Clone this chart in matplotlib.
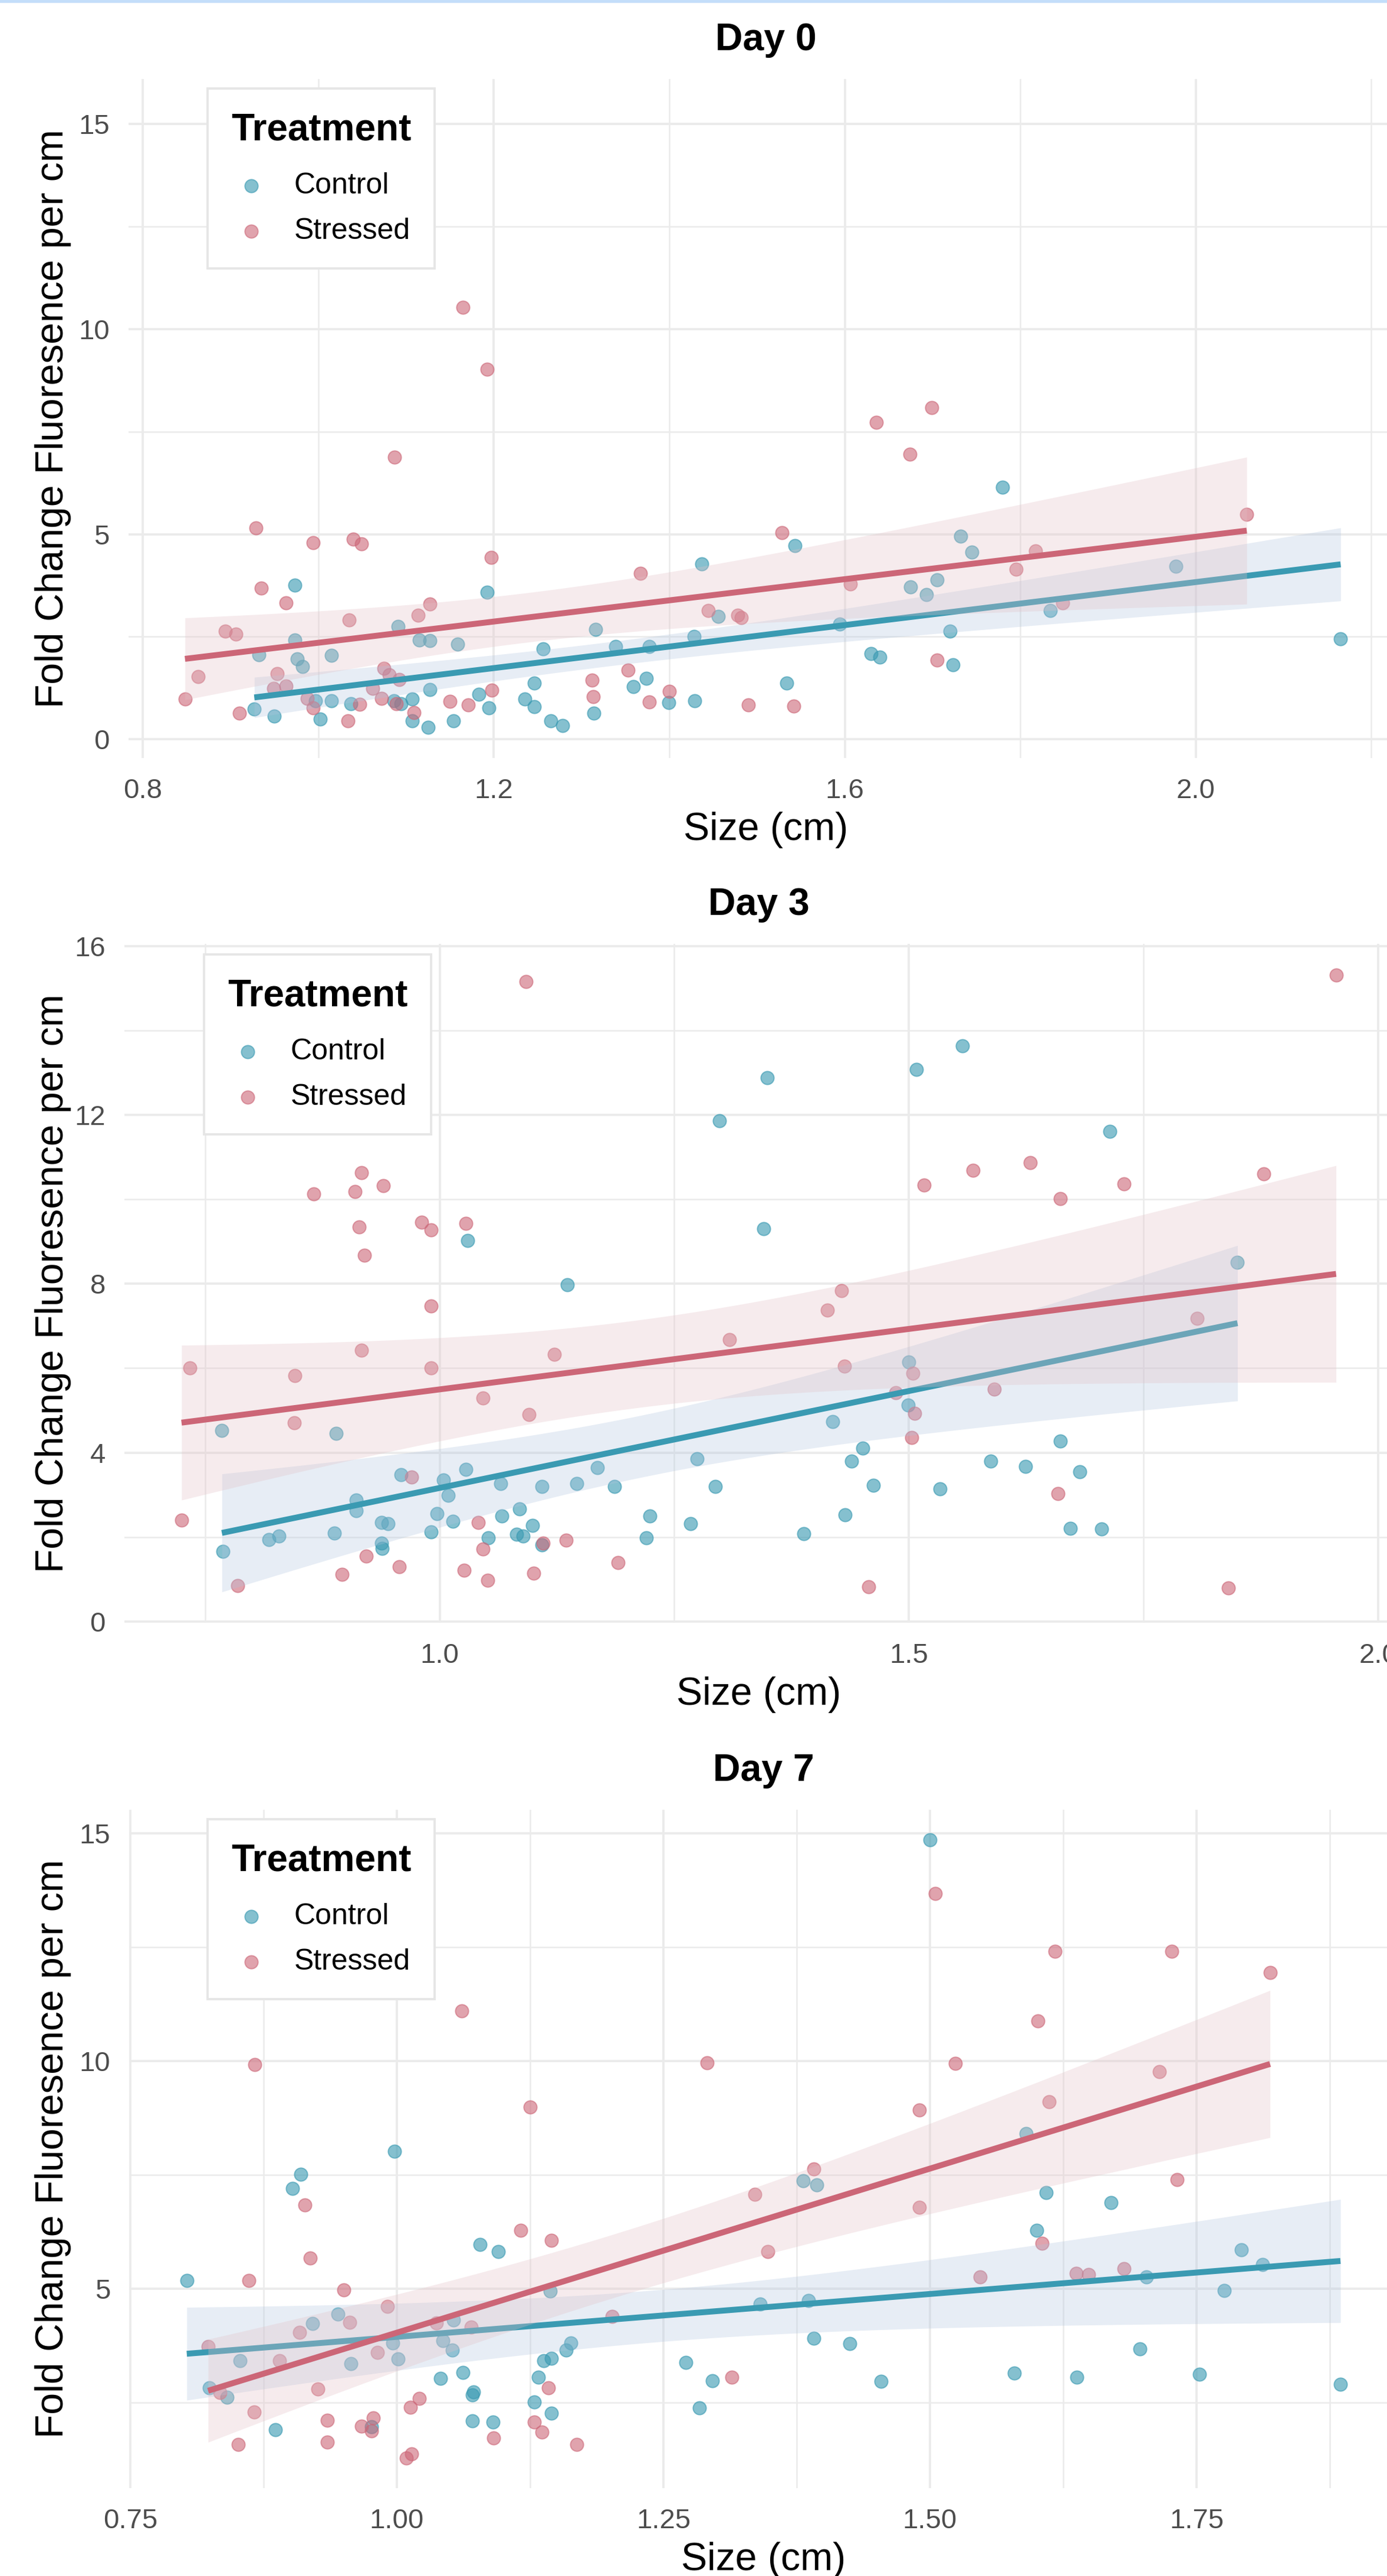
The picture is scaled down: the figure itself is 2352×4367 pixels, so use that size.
import numpy as np
import matplotlib
matplotlib.use("Agg")
import matplotlib.pyplot as plt
from matplotlib.patches import Rectangle

plt.rcParams['font.family'] = ['Liberation Sans', 'DejaVu Sans']

W, H, DPI = 2352, 4367, 200

CONTROL_COL = '#3A9AB2'
STRESS_COL = '#CC6677'
BAND_CONTROL = '#B0C4DE'
BAND_STRESS = '#E3C0C6'
GRID_COL = '#EBEBEB'

# ---- Day 0 ----
d0_ctrl_x = [0.973, 0.932, 0.973, 0.976, 0.982, 1.015, 0.927, 0.950, 1.002, 0.997,
             1.015, 1.037, 1.091, 1.115, 1.127, 1.159, 1.192, 1.086, 1.094, 1.107,
             1.107, 1.125, 1.127, 1.154, 1.183, 1.194, 1.235, 1.246, 1.246, 1.256,
             1.265, 1.278, 1.316, 1.314, 1.339, 1.359, 1.374, 1.377, 1.399, 1.429,
             1.428, 1.437, 1.456, 1.543, 1.534, 1.594, 1.630, 1.640, 1.675, 1.693,
             1.705, 1.720, 1.723, 1.732, 1.745, 1.780, 1.834, 1.977, 2.165]
d0_ctrl_y = [3.75, 2.06, 2.42, 1.96, 1.77, 2.04, 0.73, 0.56, 0.49, 0.94,
             0.94, 0.87, 2.75, 2.42, 2.40, 2.32, 3.59, 0.93, 0.87, 0.98,
             0.45, 0.29, 1.21, 0.45, 1.10, 0.76, 0.98, 0.79, 1.37, 2.20,
             0.45, 0.33, 2.67, 0.63, 2.26, 1.28, 1.48, 2.26, 0.89, 0.94,
             2.50, 4.27, 2.99, 4.72, 1.37, 2.81, 2.09, 2.00, 3.71, 3.53,
             3.89, 2.64, 1.82, 4.95, 4.56, 6.14, 3.14, 4.21, 2.44]
d0_str_x = [1.165, 1.192, 1.087, 0.929, 0.994, 1.040, 1.049, 1.197, 0.935, 0.963,
            1.367, 0.894, 0.906, 1.035, 1.114, 1.127, 0.863, 0.848, 0.910, 0.953,
            0.949, 0.963, 0.987, 0.994, 1.034, 1.047, 1.062, 1.075, 1.072,
            1.081, 1.092, 1.089, 1.109, 1.150, 1.171, 1.198, 1.312, 1.313,
            1.353, 1.377, 1.400, 1.444, 1.478, 1.482, 1.490, 1.528, 1.542, 1.606,
            1.636, 1.674, 1.699, 1.705, 1.795, 1.817, 1.848, 2.058]
d0_str_y = [10.53, 9.02, 6.88, 5.15, 4.79, 4.88, 4.76, 4.43, 3.69, 3.33,
            4.05, 2.64, 2.56, 2.90, 3.02, 3.30, 1.53, 0.98, 0.63, 1.60,
            1.24, 1.29, 1.00, 0.77, 0.45, 0.85, 1.24, 1.73, 1.00,
            1.57, 1.46, 0.87, 0.65, 0.92, 0.84, 1.20, 1.44, 1.04,
            1.68, 0.90, 1.17, 3.13, 3.02, 2.97, 0.84, 5.03, 0.80, 3.78,
            7.72, 6.95, 8.08, 1.93, 4.14, 4.59, 3.33, 5.48]

# ---- Day 3 ----
d3_ctrl_x = [1.298, 1.030, 1.136, 0.768, 0.890, 0.959, 1.004, 1.028, 1.009, 1.065,
             1.109, 1.146, 1.168, 1.186, 1.274, 1.294, 0.911, 0.911, 0.888, 0.818,
             0.829, 0.769, 0.938, 0.945, 0.938, 0.939, 0.997, 0.991, 1.014, 1.052,
             1.066, 1.085, 1.082, 1.089, 1.099, 1.109, 1.224, 1.220, 1.267, 1.557,
             1.508, 1.349, 1.345, 1.714, 1.850, 1.500, 1.499, 1.419, 1.451, 1.439,
             1.462, 1.533, 1.587, 1.624, 1.661, 1.682, 1.432, 1.388, 1.672, 1.705]
d3_ctrl_y = [11.86, 9.02, 7.97, 4.53, 4.46, 3.48, 3.35, 3.60, 2.99, 3.27,
             3.20, 3.26, 3.64, 3.20, 3.86, 3.20, 2.88, 2.62, 2.09, 1.94,
             2.02, 1.66, 2.35, 2.31, 1.85, 1.73, 2.56, 2.12, 2.37, 1.98,
             2.50, 2.66, 2.07, 2.03, 2.28, 1.82, 2.50, 1.98, 2.32, 13.63,
             13.07, 12.88, 9.30, 11.61, 8.50, 6.14, 5.12, 4.74, 4.11, 3.80,
             3.22, 3.14, 3.80, 3.67, 4.27, 3.54, 2.53, 2.08, 2.21, 2.19]
d3_str_x = [1.092, 0.917, 0.866, 0.910, 0.940, 0.914, 0.920, 0.981, 0.991, 1.028,
            0.991, 0.917, 0.991, 1.122, 0.734, 0.846, 0.845, 1.046, 1.095, 0.725,
            0.970, 1.041, 1.046, 1.110, 1.135, 0.785, 0.896, 0.922, 0.957, 1.026,
            1.051, 1.100, 1.190, 1.309, 1.955, 1.516, 1.568, 1.629, 1.661, 1.729,
            1.878, 1.428, 1.413, 1.431, 1.504, 1.486, 1.506, 1.503, 1.591, 1.659,
            1.807, 1.457, 1.840]
d3_str_y = [15.15, 10.63, 10.12, 10.18, 10.32, 9.34, 8.67, 9.46, 9.27, 9.43,
            7.47, 6.42, 6.01, 6.33, 6.01, 5.82, 4.71, 5.29, 4.90, 2.40,
            3.42, 2.34, 1.71, 1.86, 1.93, 0.85, 1.11, 1.55, 1.29, 1.21,
            0.98, 1.14, 1.39, 6.68, 15.31, 10.34, 10.69, 10.87, 10.02, 10.37,
            10.60, 7.84, 7.37, 6.04, 5.88, 5.42, 4.93, 4.35, 5.50, 3.03,
            7.18, 0.82, 0.79]

# ---- Day 7 ----
d7_ctrl_x = [0.998, 0.910, 0.902, 1.078, 1.095, 0.803, 1.144, 0.945, 0.921, 1.053,
             0.996, 1.043, 1.052, 0.853, 0.957, 1.001, 1.163, 1.159, 1.138, 1.145,
             1.271, 1.296, 0.824, 0.841, 1.041, 1.062, 1.071, 1.072, 1.133, 1.129,
             1.145, 1.284, 0.886, 0.976, 1.071, 1.090, 1.500, 1.590, 1.381, 1.394,
             1.609, 1.670, 1.600, 1.792, 1.812, 1.703, 1.776, 1.341, 1.386, 1.391,
             1.425, 1.454, 1.579, 1.638, 1.697, 1.753, 1.885]
d7_ctrl_y = [8.02, 7.52, 7.21, 5.97, 5.82, 5.18, 4.95, 4.45, 4.24, 4.32,
             3.81, 3.86, 3.66, 3.42, 3.36, 3.46, 3.81, 3.66, 3.42, 3.48,
             3.38, 2.98, 2.83, 2.62, 3.04, 3.16, 2.67, 2.74, 3.06, 2.51,
             2.27, 2.39, 1.91, 1.97, 2.10, 2.07, 14.86, 8.41, 7.38, 7.28,
             7.11, 6.90, 6.28, 5.86, 5.53, 5.26, 4.96, 4.67, 4.75, 3.92,
             3.80, 2.97, 3.15, 3.06, 3.68, 3.12, 2.91]
d7_str_x = [1.061, 0.867, 1.125, 1.291, 0.914, 0.919, 1.116, 1.145, 0.861, 0.950,
            0.991, 0.956, 0.909, 0.823, 0.890, 0.982, 1.037, 1.070, 1.202, 0.834,
            0.926, 0.866, 1.142, 1.314, 0.851, 0.935, 0.935, 0.967, 0.978, 0.976,
            1.013, 1.021, 1.009, 1.014, 1.091, 1.129, 1.136, 1.169, 1.505, 1.617,
            1.727, 1.819, 1.601, 1.524, 1.715, 1.490, 1.612, 1.391, 1.336, 1.490,
            1.732, 1.348, 1.605, 1.547, 1.637, 1.649, 1.682]
d7_str_y = [11.10, 9.93, 8.99, 9.96, 6.84, 5.68, 6.29, 6.06, 5.18, 4.98,
            4.62, 4.26, 4.04, 3.74, 3.42, 3.60, 4.25, 4.16, 4.39, 2.73,
            2.80, 2.29, 2.83, 3.06, 1.58, 2.11, 1.64, 1.99, 2.17, 1.88,
            2.40, 2.59, 1.28, 1.37, 1.73, 2.07, 1.86, 1.58, 13.68, 12.41,
            12.41, 11.95, 10.89, 9.95, 9.77, 8.93, 9.11, 7.64, 7.08, 6.79,
            7.40, 5.82, 6.00, 5.26, 5.34, 5.32, 5.45]

titles = ['Day 0', 'Day 3', 'Day 7']
ctrl_x = [d0_ctrl_x, d3_ctrl_x, d7_ctrl_x]
ctrl_y = [d0_ctrl_y, d3_ctrl_y, d7_ctrl_y]
str_x = [d0_str_x, d3_str_x, d7_str_x]
str_y = [d0_str_y, d3_str_y, d7_str_y]

x_major = [[0.8, 1.2, 1.6, 2.0], [1.0, 1.5, 2.0], [0.75, 1.00, 1.25, 1.50, 1.75]]
x_minor = [[1.0, 1.4, 1.8, 2.2], [0.75, 1.25, 1.75], [0.875, 1.125, 1.375, 1.625, 1.875]]
x_fmt = ['{:.1f}', '{:.1f}', '{:.2f}']
y_major = [[0, 5, 10, 15], [0, 4, 8, 12, 16], [5, 10, 15]]
y_minor = [[2.5, 7.5, 12.5], [2, 6, 10, 14], [2.5, 7.5, 12.5]]

# layout in pixels: left, right, top, bottom ; limits ; legend corner
boxes = [(217.7, 2379, 134, 1285), (210.7, 2363.5, 1600, 2750.6), (219.1, 2370.7, 3067.5, 4217.6)]
xlims = [(0.7835, 2.236), (0.664, 2.0165), (0.749, 1.939)]
ylims = [(-0.46, 16.1), (-0.025, 16.05), (0.63, 15.53)]
legend_at = [(352, 150), (346, 1618), (352, 3084)]


def lm_band(x, y, n=80):
    x = np.asarray(x)
    y = np.asarray(y)
    b, a = np.polyfit(x, y, 1)
    xs = np.linspace(x.min(), x.max(), n)
    fit = a + b * xs
    df = len(x) - 2
    s = np.sqrt(np.sum((y - (a + b * x)) ** 2) / df)
    sxx = np.sum((x - x.mean()) ** 2)
    se = s * np.sqrt(1.0 / len(x) + (xs - x.mean()) ** 2 / sxx)
    z = 1.959964
    t = z + (z ** 3 + z) / (4 * df) + (5 * z ** 5 + 16 * z ** 3 + 3 * z) / (96 * df ** 2)
    return xs, fit, fit - t * se, fit + t * se


fig = plt.figure(figsize=(W / DPI, H / DPI), dpi=DPI)
fig.patches.append(Rectangle((0, 1 - 3 / H), 1, 3 / H, transform=fig.transFigure,
                             color='#C4DEFA', zorder=10))

for i in range(3):
    l, r, t, b = boxes[i]
    ax = fig.add_axes([l / W, 1 - b / H, (r - l) / W, (b - t) / H])
    ax.set_xlim(*xlims[i])
    ax.set_ylim(*ylims[i])
    for s in ax.spines.values():
        s.set_visible(False)
    ax.set_axisbelow(True)

    ax.set_xticks(x_major[i])
    ax.set_xticklabels([x_fmt[i].format(v) for v in x_major[i]])
    ax.set_xticks(x_minor[i], minor=True)
    ax.set_yticks(y_major[i])
    ax.set_yticks(y_minor[i], minor=True)
    ax.grid(True, which='major', color=GRID_COL, lw=1.4)
    ax.grid(True, which='minor', color=GRID_COL, lw=0.9)
    ax.tick_params(which='both', length=0)
    ax.tick_params(axis='x', pad=12.3, labelsize=17, labelcolor='#4D4D4D')
    ax.tick_params(axis='y', pad=11.5, labelsize=17, labelcolor='#4D4D4D')

    hc = ax.scatter(ctrl_x[i], ctrl_y[i], s=64, color=CONTROL_COL, alpha=0.62,
                    edgecolors=CONTROL_COL, linewidths=0.7, zorder=3, label='Control')
    hs = ax.scatter(str_x[i], str_y[i], s=64, color=STRESS_COL, alpha=0.6,
                    edgecolors=STRESS_COL, linewidths=0.7, zorder=3, label='Stressed')

    xs, fit, lo, hi = lm_band(ctrl_x[i], ctrl_y[i])
    ax.fill_between(xs, lo, hi, color=BAND_CONTROL, alpha=0.3, lw=0, zorder=4)
    ax.plot(xs, fit, color=CONTROL_COL, lw=3.6, zorder=5, solid_capstyle='butt')
    xs, fit, lo, hi = lm_band(str_x[i], str_y[i])
    ax.fill_between(xs, lo, hi, color=BAND_STRESS, alpha=0.3, lw=0, zorder=6)
    ax.plot(xs, fit, color=STRESS_COL, lw=3.6, zorder=7, solid_capstyle='butt')

    hgt = b - t
    wid = r - l
    ax.set_title(titles[i], fontsize=23.2, fontweight='bold', y=1 + 66 / hgt,
                 va='center', pad=0)
    ax.set_xlabel('Size (cm)', fontsize=23.8)
    ax.xaxis.set_label_coords(0.5, -122 / hgt)
    ax.xaxis.label.set_va('center')
    ax.set_ylabel('Fold Change Fluoresence per cm', fontsize=23.8)
    ax.yaxis.set_label_coords(-(l - 90) / wid, 0.5)
    ax.yaxis.label.set_va('center')

    lx, ly = legend_at[i]
    leg = ax.legend(handles=[hc, hs], title='Treatment', loc='upper left',
                    bbox_to_anchor=(lx / W, 1 - ly / H), bbox_transform=fig.transFigure,
                    borderaxespad=0, fontsize=18, title_fontsize=23,
                    fancybox=False, framealpha=1, edgecolor='#E6E6E6',
                    handlelength=1.35, handletextpad=0.78, labelspacing=0.62,
                    borderpad=0.8, scatterpoints=1)
    leg.get_title().set_fontweight('bold')
    leg._legend_box.align = 'left'
    leg._legend_box.sep = 15.0
    leg.get_frame().set_linewidth(1.4)
    leg.set_zorder(20)

fig.savefig('out.png', dpi=DPI)
